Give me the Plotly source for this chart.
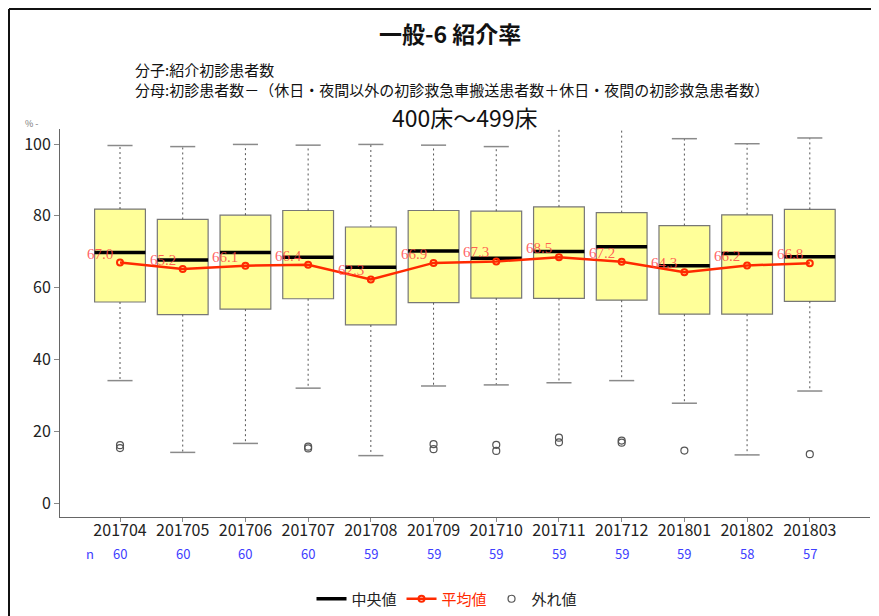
import plotly.graph_objects as go

months = ["201704", "201705", "201706", "201707", "201708", "201709",
          "201710", "201711", "201712", "201801", "201802", "201803"]
n_counts = [60, 60, 60, 60, 59, 59, 59, 59, 59, 59, 58, 57]
q1 = [56.0, 52.5, 54.0, 56.9, 49.6, 55.8, 57.1, 57.0, 56.5, 52.6, 52.6, 56.2]
median = [69.8, 67.7, 69.8, 68.5, 65.7, 70.2, 68.2, 70.1, 71.4, 66.1, 69.5, 68.6]
q3 = [81.9, 79.0, 80.2, 81.5, 76.9, 81.5, 81.3, 82.5, 80.9, 77.3, 80.3, 81.8]
lower = [34.1, 14.1, 16.6, 32.0, 13.2, 32.6, 32.9, 33.5, 34.1, 27.8, 13.4, 31.2]
upper = [99.6, 99.3, 99.9, 99.7, 99.9, 99.7, 99.3, 106.0, 106.0, 101.5, 100.1, 101.7]
mean = [67.0, 65.2, 66.1, 66.4, 62.3, 66.9, 67.3, 68.5, 67.2, 64.3, 66.2, 66.8]
outliers = [[15.3, 16.1], [], [], [15.2, 15.7], [], [15.0, 16.4],
            [14.5, 16.2], [16.9, 18.2], [16.8, 17.4], [14.6], [], [13.6]]

FONT = "Noto Sans CJK JP"
BOX_W = 0.81
CAP_W = 0.40
idx = list(range(len(months)))

# page offset of the figure div (browser default body margin)
OFF = 8
# plot area in page pixels
PL, PR, PT, PB = 60, 870, 129, 517
L, R, T, B = PL - OFF, PR - OFF, PT - OFF, PB - OFF
PW, PH = R - L, B - T
W, H = 879, 616


def px(x):
    return (x - OFF - L) / PW


def py(y):
    return (B - (y - OFF)) / PH


fig = go.Figure()

# whiskers (dashed)
wx, wy = [], []
for i in idx:
    wx += [i, i, None, i, i, None]
    wy += [q3[i], upper[i], None, q1[i], lower[i], None]
fig.add_trace(go.Scatter(x=wx, y=wy, mode="lines", showlegend=False, hoverinfo="skip",
                         line=dict(color="#555555", width=1, dash="2px,3px")))
# caps
cx, cy = [], []
for i in idx:
    cx += [i - CAP_W / 2, i + CAP_W / 2, None, i - CAP_W / 2, i + CAP_W / 2, None]
    cy += [upper[i], upper[i], None, lower[i], lower[i], None]
fig.add_trace(go.Scatter(x=cx, y=cy, mode="lines", showlegend=False, hoverinfo="skip",
                         line=dict(color="#8a8a8a", width=1.5)))
# boxes
fig.add_trace(go.Bar(x=idx, y=[q3[i] - q1[i] for i in idx], base=q1, width=BOX_W,
                     marker=dict(color="#ffff99", line=dict(color="#777777", width=1.2)),
                     showlegend=False, hoverinfo="skip"))
# medians
mx, my = [], []
for i in idx:
    mx += [i - BOX_W / 2, i + BOX_W / 2, None]
    my += [median[i], median[i], None]
fig.add_trace(go.Scatter(x=mx, y=my, mode="lines", name="中央値",
                         line=dict(color="black", width=3.5)))
# mean
fig.add_trace(go.Scatter(x=idx, y=mean, mode="lines+markers",
                         name='<span style="color:#ff2a00">平均値</span>',
                         line=dict(color="#ff2a00", width=2.5),
                         marker=dict(symbol="circle-open", size=6, color="#ff2a00",
                                     line=dict(width=2, color="#ff2a00"))))
# outliers
ox, oy = [], []
for i in idx:
    for v in outliers[i]:
        ox.append(i)
        oy.append(v)
fig.add_trace(go.Scatter(x=ox, y=oy, mode="markers", name="外れ値",
                         marker=dict(symbol="circle-open", size=7, color="#555555",
                                     line=dict(width=1.2, color="#555555"))))

annotations = []
for i in idx:
    annotations.append(dict(x=i, y=mean[i], xref="x", yref="y", text=f"{mean[i]:.1f}",
                            showarrow=False, xshift=-20, yshift=9,
                            font=dict(family="Liberation Serif", size=15,
                                      color="rgba(255,70,70,0.85)")))
    annotations.append(dict(x=i, y=py(553), xref="x", yref="paper", text=str(n_counts[i]),
                            showarrow=False, yanchor="middle",
                            font=dict(family=FONT, size=13, color="#4040ff")))
annotations.append(dict(x=px(84), y=py(553), xref="paper", yref="paper", text="n",
                        showarrow=False, yanchor="middle",
                        font=dict(family=FONT, size=13, color="#4040ff")))
annotations.append(dict(x=px(450), y=py(33), xref="paper", yref="paper", yanchor="middle",
                        text="<b>一般-6 紹介率</b>", showarrow=False,
                        font=dict(family=FONT, size=23, color="#111111")))
annotations.append(dict(x=px(133), y=py(79), xref="paper", yref="paper", xanchor="left",
                        yanchor="middle", align="left",
                        text="分子:紹介初診患者数<br>"
                             "分母:初診患者数－（休日・夜間以外の初診救急車搬送患者数＋休日・夜間の初診救急患者数）",
                        showarrow=False, font=dict(family=FONT, size=15, color="#111111")))
annotations.append(dict(x=px(465), y=py(117), xref="paper", yref="paper", yanchor="middle",
                        text="400床～499床", showarrow=False,
                        font=dict(family=FONT, size=23, color="#111111")))
annotations.append(dict(x=px(23), y=py(123), xref="paper", yref="paper", yanchor="middle",
                        text="% -", showarrow=False,
                        font=dict(family=FONT, size=9, color="#777777")))

border_x0 = (1 - L) / PW
border_y1 = (B - 1) / PH
fig.update_layout(
    width=W, height=H,
    margin=dict(l=L, r=W - R, t=T, b=H - B, autoexpand=False),
    paper_bgcolor="white", plot_bgcolor="white",
    font=dict(family=FONT, size=16, color="#222222"),
    barmode="overlay",
    xaxis=dict(range=[-0.957, 11.96], tickmode="array", tickvals=idx, ticktext=months,
               automargin=False, ticklabelstandoff=-5,
               showgrid=False, zeroline=False, showline=True, linecolor="#666666",
               linewidth=1, ticks="outside", ticklen=4, tickcolor="#888888",
               tickfont=dict(family=FONT, size=16, color="#222222")),
    yaxis=dict(range=[-3.9, 104.2], tickmode="array", tickvals=[0, 20, 40, 60, 80, 100],
               automargin=False,
               showgrid=False, zeroline=False, showline=True, linecolor="#666666",
               linewidth=1, ticks="outside", ticklen=5, tickcolor="#888888",
               tickfont=dict(family=FONT, size=16, color="#222222")),
    legend=dict(orientation="h", x=px(447), xanchor="center", y=py(599), yanchor="middle",
                font=dict(family=FONT, size=15, color="#222222"),
                bgcolor="rgba(0,0,0,0)", itemwidth=30),
    annotations=annotations,
    shapes=[
        dict(type="line", xref="paper", yref="paper",
             x0=border_x0, x1=(W + 20 - L) / PW, y0=border_y1, y1=border_y1,
             line=dict(color="#111111", width=2), layer="below"),
        dict(type="line", xref="paper", yref="paper",
             x0=border_x0, x1=border_x0, y0=(B - (H + 20)) / PH, y1=border_y1,
             line=dict(color="#111111", width=2), layer="below"),
    ],
)

fig.write_html("out.html")
